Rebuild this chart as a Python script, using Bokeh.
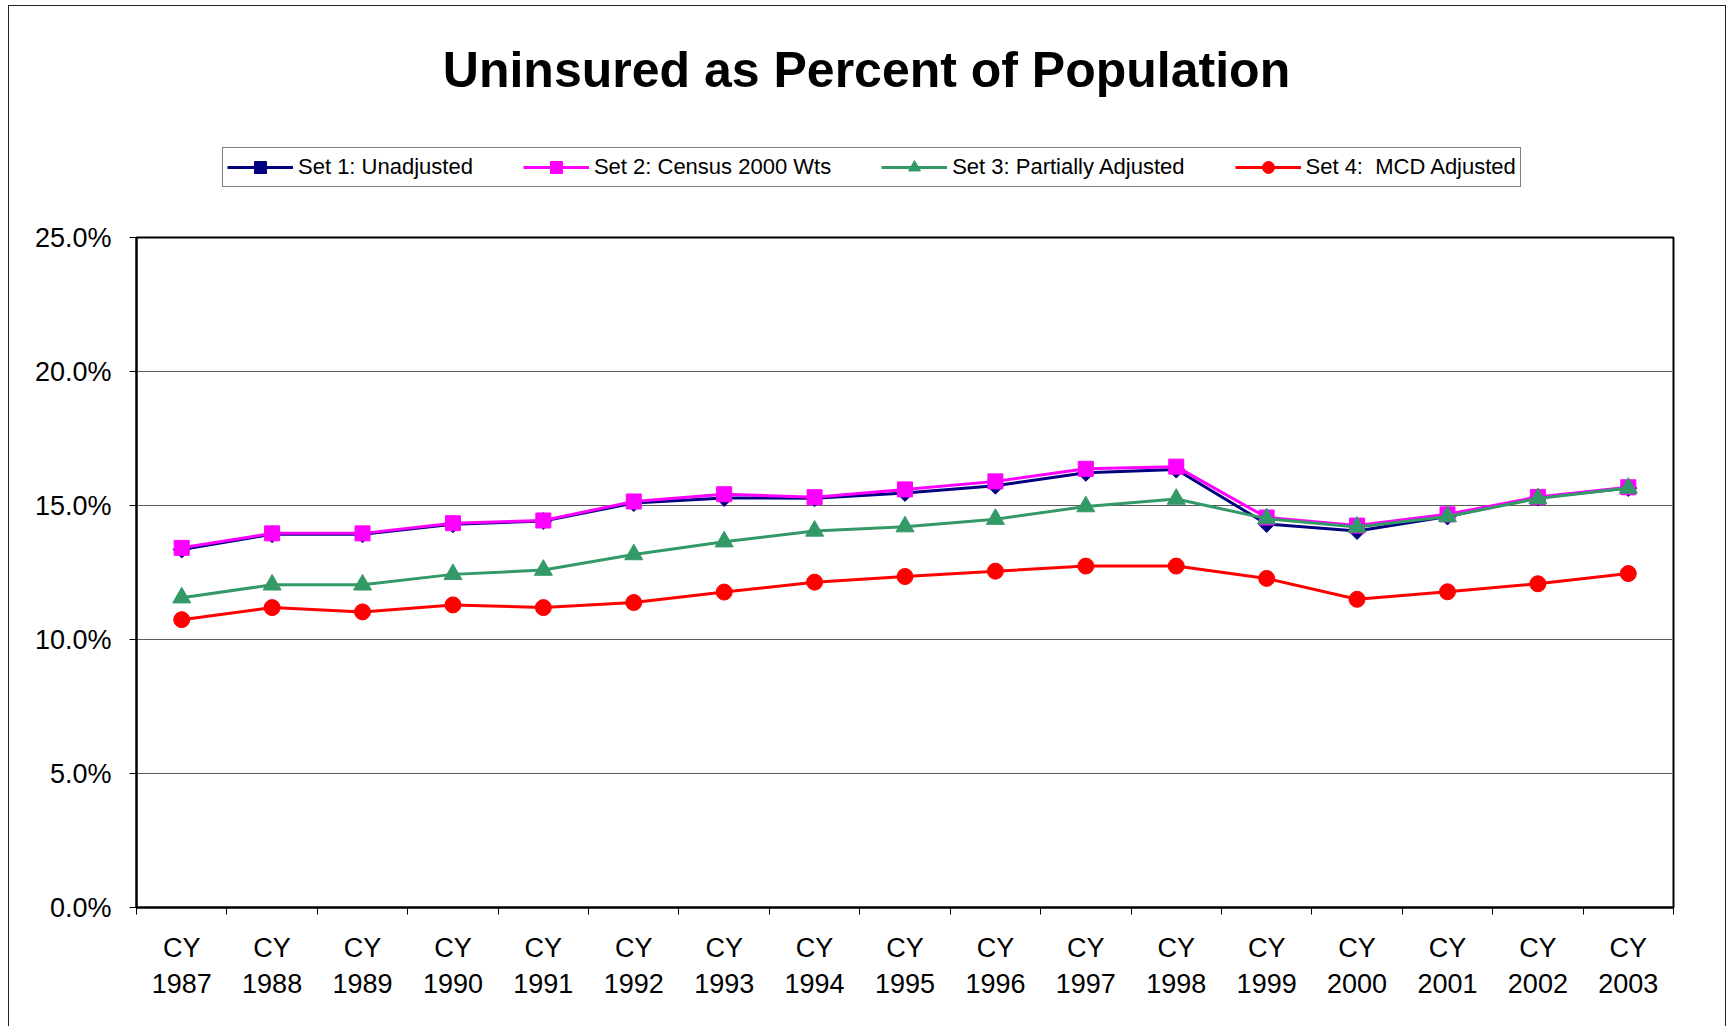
import math
from bokeh.plotting import figure
from bokeh.layouts import column
from bokeh.models import (Range1d, FixedTicker, LinearAxis, PrintfTickFormatter,
                          Legend, LegendItem, Label)
from bokeh.embed import file_html
from bokeh.resources import INLINE

# ---- data (percent of population) ----
years = ["1987", "1988", "1989", "1990", "1991", "1992", "1993", "1994", "1995",
         "1996", "1997", "1998", "1999", "2000", "2001", "2002", "2003"]
set1_unadjusted = [13.36, 13.93, 13.93, 14.30, 14.42, 15.09, 15.28, 15.27, 15.47,
                   15.74, 16.22, 16.34, 14.31, 14.05, 14.59, 15.30, 15.65]
set2_census2000 = [13.42, 13.96, 13.96, 14.34, 14.44, 15.15, 15.42, 15.31, 15.60,
                   15.90, 16.37, 16.45, 14.55, 14.25, 14.67, 15.32, 15.68]
set3_partial = [11.56, 12.04, 12.04, 12.43, 12.59, 13.17, 13.65, 14.05, 14.21,
                14.49, 14.96, 15.24, 14.51, 14.20, 14.59, 15.26, 15.65]
set4_mcd = [10.74, 11.19, 11.03, 11.29, 11.19, 11.38, 11.77, 12.14, 12.35,
            12.55, 12.74, 12.74, 12.28, 11.50, 11.78, 12.08, 12.46]
y_ticks = [0, 5, 10, 15, 20, 25]
series_labels = ["Set 1: Unadjusted", "Set 2: Census 2000 Wts",
                 "Set 3: Partially Adjusted", "Set 4:  MCD Adjusted"]
title_text = "Uninsured as Percent of Population"

xs = list(range(len(years)))
n = len(years)

FONT = "Liberation Sans"
LW = 3
styles = [
    dict(line_color="#000080", marker="square", size=12, angle=math.pi / 4, color="#000080"),
    dict(line_color="#FF00FF", marker="square", size=15, angle=0.0, color="#FF00FF"),
    dict(line_color="#339966", marker="triangle", size=18, angle=0.0, color="#339966"),
    dict(line_color="#FF0000", marker="circle", size=16, angle=0.0, color="#FF0000"),
]
series = [set1_unadjusted, set2_census2000, set3_partial, set4_mcd]

# ---------------- header: title + legend ----------------
# (header frame is aligned with the main frame by the column layout; the series
#  drawn here fall outside its ranges and only feed the legend samples)
hdr = figure(width=1716, height=211, x_range=Range1d(100, 101), y_range=Range1d(100, 101),
             x_axis_location=None, y_axis_location=None,
             output_backend="svg", toolbar_location=None, min_border=0)
hdr.outline_line_color = None
hdr.grid.visible = False
hdr.background_fill_color = "white"
hdr.border_fill_color = "white"

items = []
for lab, vals, st in zip(series_labels, series, styles):
    lr = hdr.line(xs, vals, line_color=st["line_color"], line_width=LW)
    mr = hdr.scatter(xs, vals, marker=st["marker"], size=st["size"],
                     angle=st["angle"], fill_color=st["color"], line_color=st["color"])
    items.append(LegendItem(label=lab, renderers=[lr, mr]))

legend = Legend(items=items, orientation="horizontal", location=(86, 30))
legend.glyph_width = 66
legend.glyph_height = 30
legend.label_height = 20
legend.label_standoff = 5
legend.spacing = 50
legend.padding = 4
legend.margin = 0
legend.label_text_font = FONT
legend.label_text_font_size = "22px"
legend.label_text_color = "black"
legend.border_line_color = "black"
legend.border_line_width = 1
legend.background_fill_color = "white"
legend.background_fill_alpha = 1
hdr.add_layout(legend, "center")

title = Label(x=730, y=148, x_units="screen", y_units="screen", text=title_text,
              text_align="center", text_baseline="alphabetic",
              text_font=FONT, text_font_size="50px", text_font_style="bold",
              text_color="black")
hdr.add_layout(title)

# ---------------- main chart ----------------
p = figure(width=1716, height=809,
           x_range=Range1d(-0.5, n - 0.5), y_range=Range1d(0, 25),
           output_backend="svg", toolbar_location=None,
           min_border_left=127, min_border_right=52,
           min_border_top=20, min_border_bottom=119)
p.background_fill_color = "white"
p.border_fill_color = "white"
p.outline_line_color = "black"
p.outline_line_width = 2

# x axis 1: "CY" labels at category centres, tick marks at category boundaries
xa = p.xaxis[0]
xa.ticker = FixedTicker(ticks=xs, minor_ticks=[i - 0.5 for i in range(n + 1)])
xa.major_label_overrides = {i: "CY" for i in xs}
xa.major_tick_out = 7
xa.major_tick_in = 0
xa.major_tick_line_color = None
xa.minor_tick_out = 7
xa.minor_tick_in = 0
xa.minor_tick_line_color = "black"
xa.minor_tick_line_width = 1
xa.major_label_standoff = 18
xa.major_label_text_font = FONT
xa.major_label_text_font_size = "27px"
xa.major_label_text_color = "black"
xa.axis_line_color = "black"
xa.axis_line_width = 2

# x axis 2: year
xc = LinearAxis(ticker=FixedTicker(ticks=xs),
                major_label_overrides={i: y for i, y in zip(xs, years)})
xc.axis_line_color = None
xc.major_tick_line_color = None
xc.minor_tick_line_color = None
xc.major_tick_out = 0
xc.major_tick_in = 0
xc.major_label_standoff = 8
xc.major_label_text_font = FONT
xc.major_label_text_font_size = "27px"
xc.major_label_text_color = "black"
p.add_layout(xc, "below")

# y axis
ya = p.yaxis[0]
ya.ticker = FixedTicker(ticks=y_ticks)
ya.formatter = PrintfTickFormatter(format="%.1f%%")
ya.major_tick_out = 7
ya.major_tick_in = 0
ya.minor_tick_line_color = None
ya.major_label_standoff = 18
ya.major_label_text_font = FONT
ya.major_label_text_font_size = "27px"
ya.major_label_text_color = "black"
ya.axis_line_color = "black"
ya.axis_line_width = 2

p.xgrid.visible = False
p.ygrid.ticker = FixedTicker(ticks=y_ticks[1:-1])
p.ygrid.grid_line_color = "#5a5a5a"
p.ygrid.grid_line_width = 1

for vals, st in zip(series, styles):
    p.line(xs, vals, line_color=st["line_color"], line_width=LW)
    p.scatter(xs, vals, marker=st["marker"], size=st["size"], angle=st["angle"],
              fill_color=st["color"], line_color=st["color"])

layout = column(hdr, p, spacing=0)
layout.styles = {"margin-left": "8px", "margin-top": "5px",
                 "border-left": "1px solid #222", "border-top": "1px solid #222",
                 "border-right": "1px solid #222"}

open("out.html", "w").write(file_html(layout, INLINE))
